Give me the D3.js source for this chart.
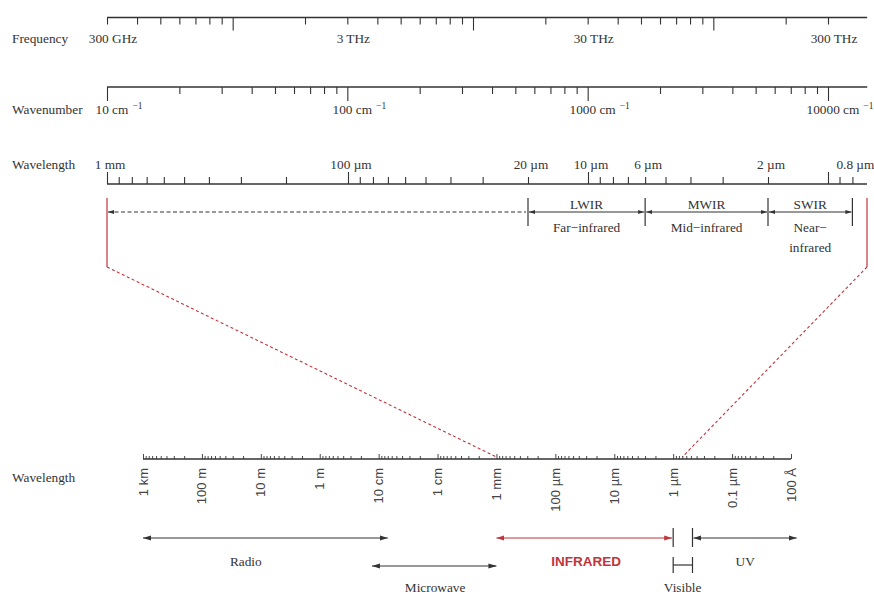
<!DOCTYPE html>
<html>
<head>
<meta charset="utf-8">
<script src="https://cdn.jsdelivr.net/npm/d3@7"></script>
<style>
body { margin: 0; background: #fff; }
svg { display: block; }
text { font-family: "Liberation Serif", "Times New Roman", serif; font-size: 13.3px; fill: #333; }
.sans { font-family: "Liberation Sans", Arial, sans-serif; }
</style>
</head>
<body>
<svg width="874" height="594"></svg>
<script>

// frequency (THz)
var freqTicks = [0.3,0.4,0.5,0.6,0.7,0.8,0.9,1,2,3,4,5,6,7,8,9,10,20,30,40,50,60,70,80,90,100,200,300];
var freqMajor = [1,10,100];
var freqLabels = [0.3,3,30,300];
var freqText = ["300 GHz","3 THz","30 THz","300 THz"];

// wavenumber (cm^-1)
var wnTicks = [10,20,30,40,50,60,70,80,90,100,200,300,400,500,600,700,800,900,1000,2000,3000,4000,5000,6000,7000,8000,9000,10000];
var wnMajor = [10,100,1000,10000];
var wnLabels = [10,100,1000,10000];

// wavelength (µm), infrared detail
var wlTicks = [1000,900,800,700,600,500,400,300,200,100,90,80,70,60,50,40,30,20,10,9,8,7,6,5,4,3,2,1,0.9,0.8];
var wlMajor = [1000,100,10,1];
var wlLabels = [1000,100,20,10,6,2,0.8];
var wlText = ["1 mm","100 µm","20 µm","10 µm","6 µm","2 µm","0.8 µm"];
var wlEnd = 0.7;

var bandEdges = [20,6,2,0.8];
var bandNames = ["LWIR","MWIR","SWIR"];
var bandSubs = [["Far\u2212infrared"],["Mid\u2212infrared"],["Near\u2212","infrared"]];

// whole spectrum (m)
var specMajor = [1e3,1e2,1e1,1,1e-1,1e-2,1e-3,1e-4,1e-5,1e-6,1e-7,1e-8];
var specText = ["1 km","100 m","10 m","1 m","10 cm","1 cm","1 mm","100 µm","10 µm","1 µm","0.1 µm","100 Å"];
var regionNames = ["Radio","Microwave","INFRARED","Visible","UV"];
var regionFrom = [1000,0.13,1e-3,1e-6,4.7e-7];
var regionTo = [0.07,1e-3,1e-6,4.7e-7,8e-9];
var regionLabelAt = [18,0.011,3e-5,6.9e-7,6e-8];

var cLight = 299.79; // µm*THz
var red = "#c0343c", ink = "#333";

var svg = d3.select("svg");

var defs = svg.append("defs");
function marker(id, col, len, half) {
  defs.append("marker").attr("id", id)
    .attr("viewBox", "0 " + (-half) + " " + len + " " + (2*half))
    .attr("refX", len).attr("refY", 0)
    .attr("markerWidth", len).attr("markerHeight", 2*half)
    .attr("markerUnits", "userSpaceOnUse")
    .attr("orient", "auto-start-reverse")
    .append("path").attr("d", "M0," + (-half) + "L" + len + ",0L0," + half + "Z").attr("fill", col);
}
marker("ak", ink, 8, 2.6);
marker("ar", red, 8, 2.6);
marker("as", ink, 6, 2);

var xF = d3.scaleLog().domain([0.3, 300]).range([107, 828]);
var xN = d3.scaleLog().domain([10, 10000]).range([107, 828]);
var xW = d3.scaleLog().domain([1000, 200, 100, 20, 10, 2, 1, 0.7]).range([107, 286, 348, 528, 588, 768, 828, 867]);
var xS = d3.scaleLog().domain([1e3, 1e-8]).range([143, 791]);

function topAxis(scale, ticks, major, y, up, len, bigLen, lineEnd) {
  var g = svg.append("g").attr("transform", "translate(0," + y + ")").attr("color", ink);
  var ax = (up ? d3.axisTop(scale) : d3.axisBottom(scale)).tickValues(ticks).tickSize(len).tickSizeOuter(0).tickFormat("");
  g.call(ax);
  g.select(".domain").remove();
  g.selectAll(".tick line").attr("stroke-width", 1.1)
    .filter(function(d) { return major.indexOf(d) >= 0; })
    .attr("y2", up ? -bigLen : bigLen);
  g.append("line").attr("x1", scale.range()[0]).attr("x2", lineEnd)
    .attr("stroke", ink).attr("stroke-width", 1.3);
  return g;
}

// left titles
[["Frequency", 43], ["Wavenumber", 114], ["Wavelength", 169], ["Wavelength", 482]].forEach(function(t) {
  svg.append("text").attr("x", 12).attr("y", t[1]).text(t[0]);
});

// frequency axis
topAxis(xF, freqTicks, freqMajor, 17.5, false, 7, 13, xF(cLight / wlEnd) + 2);
svg.selectAll(".flab").data(freqLabels).enter().append("text")
  .attr("x", function(d) { return xF(d) + 6; }).attr("y", 43)
  .attr("text-anchor", "middle")
  .text(function(d, i) { return freqText[i]; });

// wavenumber axis
topAxis(xN, wnTicks, wnMajor, 87, false, 7, 14, xN(1e4 / wlEnd) + 2);
var wl = svg.selectAll(".nlab").data(wnLabels).enter().append("text")
  .attr("x", function(d) { return xN(d) + 12; }).attr("y", 114)
  .attr("text-anchor", "middle");
wl.append("tspan").text(function(d) { return d + " cm"; });
wl.append("tspan").attr("dx", 4).attr("dy", -5).attr("font-size", 9.5).text("\u22121");

// wavelength axis (infrared detail)
topAxis(xW, wlTicks, wlMajor, 184, true, 7, 12, xW(wlEnd));
svg.selectAll(".wlab").data(wlLabels).enter().append("text")
  .attr("x", function(d) { return xW(d) + 3; }).attr("y", 169)
  .attr("text-anchor", "middle")
  .text(function(d, i) { return wlText[i]; });

// band brackets
var yb = 212;
svg.append("line").attr("x1", xW(1000) + 1).attr("x2", xW(bandEdges[0]) - 2)
  .attr("y1", yb).attr("y2", yb)
  .attr("stroke", ink).attr("stroke-dasharray", "4,2.5").attr("stroke-width", 1)
  .attr("marker-start", "url(#as)");
svg.selectAll(".bedge").data(bandEdges).enter().append("line")
  .attr("x1", function(d) { return xW(d); }).attr("x2", function(d) { return xW(d); })
  .attr("y1", 198).attr("y2", 226).attr("stroke", ink).attr("stroke-width", 1.2);
bandNames.forEach(function(name, i) {
  var a = xW(bandEdges[i]), b = xW(bandEdges[i + 1]);
  svg.append("line").attr("x1", a + 1).attr("x2", b - 1).attr("y1", yb).attr("y2", yb)
    .attr("stroke", ink).attr("stroke-width", 1.1)
    .attr("marker-start", "url(#as)").attr("marker-end", "url(#as)");
  svg.append("text").attr("x", (a + b) / 2).attr("y", 209).attr("text-anchor", "middle").text(name);
  bandSubs[i].forEach(function(s, j) {
    svg.append("text").attr("x", (a + b) / 2).attr("y", 232 + j * 20).attr("text-anchor", "middle").text(s);
  });
});

// zoom lines (red)
var ends = [[1000, 1e-3], [wlEnd, wlEnd * 1e-6]];
ends.forEach(function(e) {
  svg.append("line").attr("x1", xW(e[0])).attr("x2", xW(e[0])).attr("y1", 198).attr("y2", 267)
    .attr("stroke", red).attr("stroke-width", 1.2);
  svg.append("line").attr("x1", xW(e[0])).attr("y1", 267).attr("x2", xS(e[1])).attr("y2", 457)
    .attr("stroke", red).attr("stroke-width", 1.1).attr("stroke-dasharray", "3,2.5");
});

// full spectrum axis
var gS = svg.append("g").attr("transform", "translate(0,459)").attr("color", ink);
gS.call(d3.axisTop(xS).tickValues(xS.ticks(20)).tickSize(3).tickSizeOuter(0).tickFormat(""));
gS.select(".domain").remove();
gS.selectAll(".tick line").attr("stroke-width", 0.9)
  .filter(function(d) { return specMajor.some(function(m) { return Math.abs(Math.log10(d) - Math.log10(m)) < 1e-6; }); })
  .attr("y2", -5);
gS.append("line").attr("x1", xS(1e3)).attr("x2", xS(1e-8)).attr("stroke", ink).attr("stroke-width", 1.3);

svg.selectAll(".slab").data(specMajor).enter().append("text")
  .attr("class", "sans")
  .attr("transform", function(d) { return "translate(" + xS(d) + ",468) rotate(-90)"; })
  .attr("text-anchor", "end").attr("dy", "0.35em")
  .style("font-size", "13px").style("fill", "#444")
  .text(function(d, i) { return specText[i]; });

// spectral regions
var rowY = [538, 566, 538, 565, 538];
var labY = [566, 592, 566, 592, 566];
regionNames.forEach(function(name, i) {
  var a = xS(regionFrom[i]), b = xS(regionTo[i]), y = rowY[i];
  var col = name == "INFRARED" ? red : ink;
  if (name == "Visible") {
    svg.append("line").attr("x1", a).attr("x2", b).attr("y1", y).attr("y2", y).attr("stroke", ink).attr("stroke-width", 1.2);
    [a, b].forEach(function(x) {
      svg.append("line").attr("x1", x).attr("x2", x).attr("y1", y - 8).attr("y2", y + 8).attr("stroke", ink).attr("stroke-width", 1.2);
      svg.append("line").attr("x1", x).attr("x2", x).attr("y1", 528).attr("y2", 547).attr("stroke", ink).attr("stroke-width", 1.2);
    });
  } else {
    var pad = (name == "INFRARED" || name == "UV") ? 1 : 0;
    svg.append("line").attr("x1", a + (name == "UV" ? pad : 0)).attr("x2", b - (name == "INFRARED" ? pad : 0))
      .attr("y1", y).attr("y2", y)
      .attr("stroke", col).attr("stroke-width", 1.2)
      .attr("marker-start", "url(#" + (col == red ? "ar" : "ak") + ")")
      .attr("marker-end", "url(#" + (col == red ? "ar" : "ak") + ")");
  }
  var t = svg.append("text").attr("x", xS(regionLabelAt[i])).attr("y", labY[i])
    .attr("text-anchor", "middle").text(name);
  if (name == "INFRARED") t.attr("class", "sans").style("fill", red).style("font-weight", "bold").style("font-size", "13.5px");
});

</script>
</body>
</html>
